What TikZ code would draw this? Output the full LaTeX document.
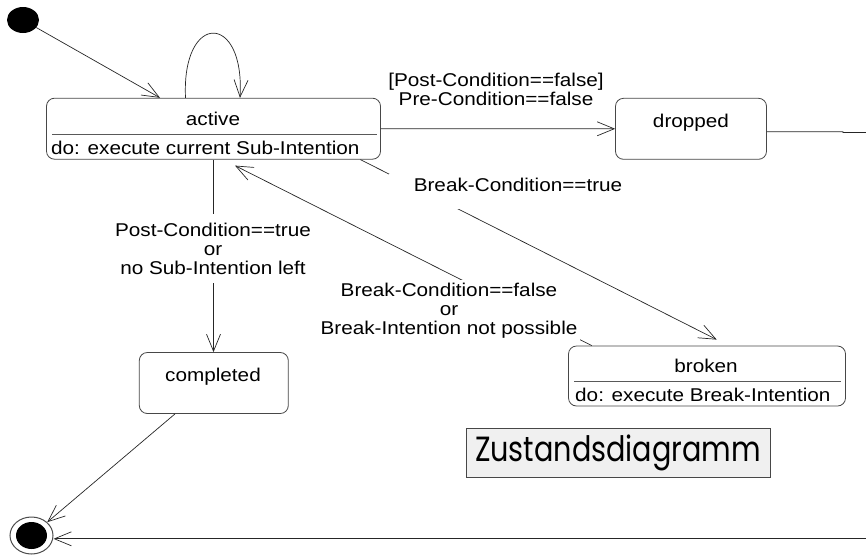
\documentclass[tikz,border=0pt]{standalone}
\usepackage{fontspec}
\setmainfont{Liberation Sans}[FakeStretch=1.12]
\newfontfamily\titlefont{Poppins}[FakeStretch=0.82]
\usetikzlibrary{arrows.meta,shapes.geometric}

\begin{document}
\begin{tikzpicture}[x=1pt,y=-1pt,
  statebox/.style={draw=black!72, line width=0.8pt, rounded corners=8pt,
    fill=white, inner sep=0pt},
  stxt/.style={font=\fontsize{18.5}{18.8}\selectfont, inner sep=0pt},
  lbl/.style={font=\fontsize{18.5}{18.8}\selectfont, align=center,
    fill=white, inner sep=3pt},
  divider/.style={draw=black!65, line width=0.8pt},
  trans/.style={draw=black!85, line width=0.7pt,
    -{Straight Barb[length=17pt,width=14pt]}},
  plain/.style={draw=black!85, line width=0.7pt},
  titlebox/.style={draw=black!72, line width=0.9pt, fill=black!6,
    minimum width=304pt, minimum height=49pt, inner sep=0pt,
    font=\titlefont\fontsize{35}{38}\selectfont}]

\useasboundingbox (0,0) rectangle (866,557);

% pseudo states
\node[ellipse, fill=black, minimum width=32pt, minimum height=26pt,
  inner sep=0pt] (init) at (23,20) {};
\node[ellipse, draw=black!70, line width=1pt, fill=white,
  minimum width=43pt, minimum height=37pt, inner sep=0pt] (final) at (31.5,535.5) {};
\node[ellipse, fill=black, minimum width=31pt, minimum height=27pt,
  inner sep=0pt] (finaldot) at (31.5,535.5) {};

% state: active
\node[statebox, minimum width=334pt, minimum height=61pt] (active) at (213.5,128.7) {};
\node[stxt, anchor=base] (activeName) at (213,125) {active};
\draw[divider] (52,134.5) -- (377,134.5);
\node[stxt, anchor=base west] (activeDo) at (51,154.5) {do: execute current Sub-Intention};

% state: dropped
\node[statebox, minimum width=151pt, minimum height=61pt] (dropped) at (691,128.8) {};
\node[stxt, anchor=base] (droppedName) at (691,127) {dropped};

% state: completed
\node[statebox, minimum width=149pt, minimum height=61pt] (completed) at (213.8,383) {};
\node[stxt, anchor=base] (completedName) at (213,381) {completed};

% state: broken
\node[statebox, minimum width=277pt, minimum height=60pt] (broken) at (707,376) {};
\node[stxt, anchor=base] (brokenName) at (706,372.7) {broken};
\draw[divider] (574,381.7) -- (841,381.7);
\node[stxt, anchor=base west] (brokenDo) at (575,401.7) {do: execute Break-Intention};

% free ends leaving to the right
\coordinate (dropOut) at (866,132.5);
\coordinate (finalIn) at (866,538.8);

% transitions
\draw[trans] (init) -- ([xshift=-53.5pt]active.north);
\draw[trans] ([xshift=-28pt]active.north)
  .. controls +(-4,-86) and +(5,-86) .. ([xshift=26.5pt]active.north);
\draw[trans] (active.east) -- (dropped.west);
\draw[plain] ([yshift=-3pt]dropped.east) -- (843,131.7) -- (843,132.5) -- (dropOut);
\draw[trans] (active.south) -- (active.south |- completed.north);
\draw[trans] ([xshift=-20.5pt]active.south east) -- ([xshift=9.7pt,yshift=6pt]broken.north);
\draw[trans] ([xshift=23.7pt]broken.north west) -- ([xshift=21.5pt,yshift=-6pt]active.south);
\draw[trans] ([xshift=-38.8pt]completed.south) -- (final);
\draw[trans] (finalIn) -- (final.east |- finalIn);

% transition labels (base anchor = baseline of the last line)
\node[lbl, anchor=base] (lblDrop) at (496,105)
  {[Post-Condition==false]\\Pre-Condition==false};
\node[lbl, anchor=base, inner ysep=9pt] (lblDone) at (213,274)
  {Post-Condition==true\\or\\no Sub-Intention left};
\node[stxt, anchor=base, fill=white, text height=17.7pt, text depth=17.3pt,
  minimum width=258pt] (lblBreak) at (518,191.7) {Break-Condition==true};
\node[lbl, anchor=base] (lblBack) at (449,334)
  {Break-Condition==false\\or\\Break-Intention not possible};

% title
\node[titlebox] (title) at (618,452.5) {Zustandsdiagramm};

\end{tikzpicture}
\end{document}
